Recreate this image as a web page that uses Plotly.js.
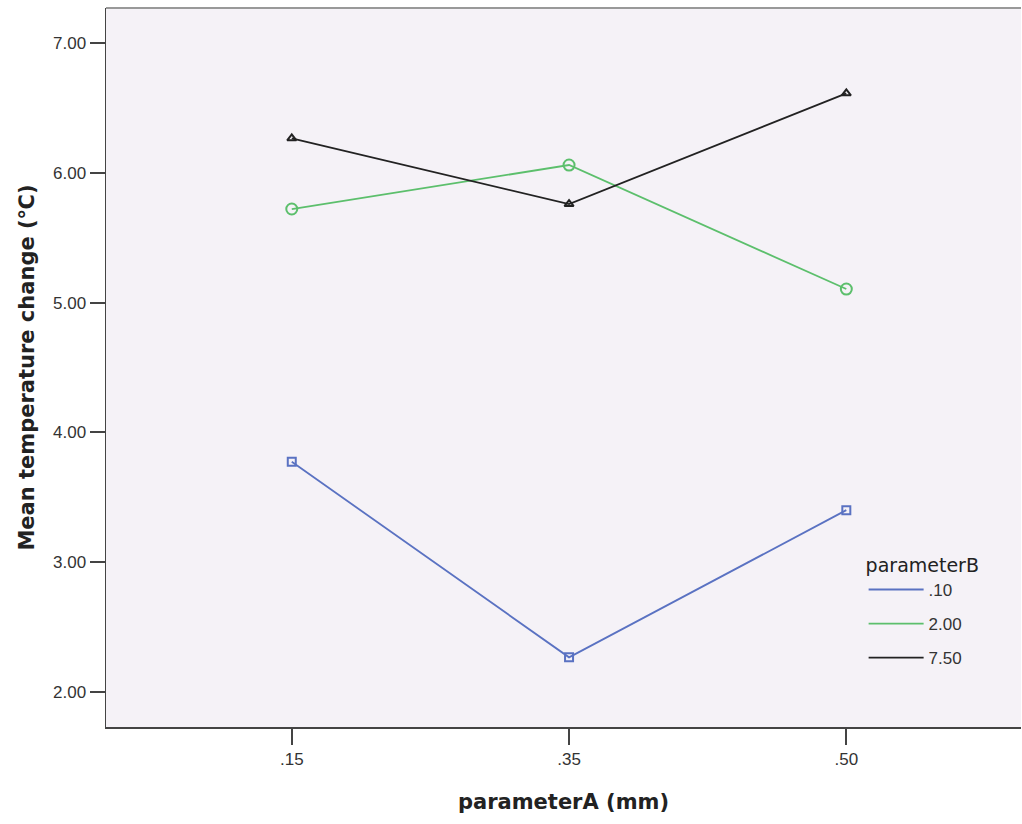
<!DOCTYPE html>
<html>
<head>
<meta charset="utf-8">
<script src="https://cdn.plot.ly/plotly-3.0.1.min.js"></script>
<style>html,body{margin:0;padding:0;background:#fff}#chart{width:1022px;height:824px}</style>
</head>
<body>
<div id="chart"></div>
<script>
// Data
const categories = [".15", ".35", ".50"];
const seriesNames = [".10", "2.00", "7.50"];
const values010 = [3.773, 2.265, 3.400];
const values200 = [5.722, 6.061, 5.105];
const values750 = [6.267, 5.760, 6.614];
const yTickVals = [2, 3, 4, 5, 6, 7];
const yTickText = ["2.00", "3.00", "4.00", "5.00", "6.00", "7.00"];

const seriesValues = [values010, values200, values750];
const lineColors = ["#5a72c2", "#5cbf6c", "#222222"];
const markerSymbols = ["square-open", "circle-open", "triangle-up-open"];
const markerSizes = [8, 11, 8];

const narrow = "Liberation Sans Narrow, Liberation Sans, Noto Sans, sans-serif";
const wide = "DejaVu Sans, Noto Sans, sans-serif";

const traces = [];
seriesValues.forEach((vals, i) => {
  traces.push({
    x: categories, y: vals, type: "scatter", mode: "lines",
    name: seriesNames[i], legendgroup: "g" + i,
    line: {color: lineColors[i], width: 1.8},
    hoverinfo: "skip"
  });
});
seriesValues.forEach((vals, i) => {
  traces.push({
    x: categories, y: vals, type: "scatter", mode: "markers",
    showlegend: false, legendgroup: "g" + i,
    marker: {symbol: markerSymbols[i], size: markerSizes[i], color: lineColors[i], line: {width: 2, color: lineColors[i]}},
    hoverinfo: "skip"
  });
});

const layout = {
  width: 1022, height: 824,
  margin: {l: 106, r: 1, t: 8, b: 97},
  paper_bgcolor: "#ffffff",
  plot_bgcolor: "#f5f2f7",
  font: {family: wide, color: "#333"},
  showlegend: true,
  xaxis: {
    type: "category",
    range: [-0.67, 2.63],
    showgrid: false, zeroline: false,
    showline: true, linecolor: "#444", linewidth: 1.5,
    ticks: "outside", ticklen: 16, tickwidth: 2, tickcolor: "#444",
    tickfont: {size: 17, color: "#333", family: narrow},
    title: {text: "parameterA (mm)", font: {size: 21, color: "#222", weight: "bold", family: wide}, standoff: 26}
  },
  yaxis: {
    range: [1.728, 7.272],
    tickvals: yTickVals, ticktext: yTickText,
    showgrid: false, zeroline: false,
    showline: true, linecolor: "#444", linewidth: 1.5,
    ticks: "outside", ticklen: 15, tickwidth: 2, tickcolor: "#444",
    tickfont: {size: 17, color: "#333", family: narrow},
    title: {text: "Mean temperature change (℃)", font: {size: 21, color: "#222", weight: "bold", family: wide}, standoff: 12}
  },
  shapes: [
    {type: "line", xref: "paper", yref: "paper", x0: 0, x1: 1, y0: 1, y1: 1, line: {color: "#999", width: 2}}
  ],
  legend: {
    x: 0.828, y: 0.250, xanchor: "left", yanchor: "top",
    bgcolor: "rgba(0,0,0,0)",
    title: {text: "parameterB", font: {size: 19, color: "#222", family: wide}},
    font: {size: 17, color: "#333", family: narrow},
    itemwidth: 55,
    tracegroupgap: 9
  }
};

Plotly.newPlot("chart", traces, layout, {displayModeBar: false, staticPlot: true});
</script>
</body>
</html>
